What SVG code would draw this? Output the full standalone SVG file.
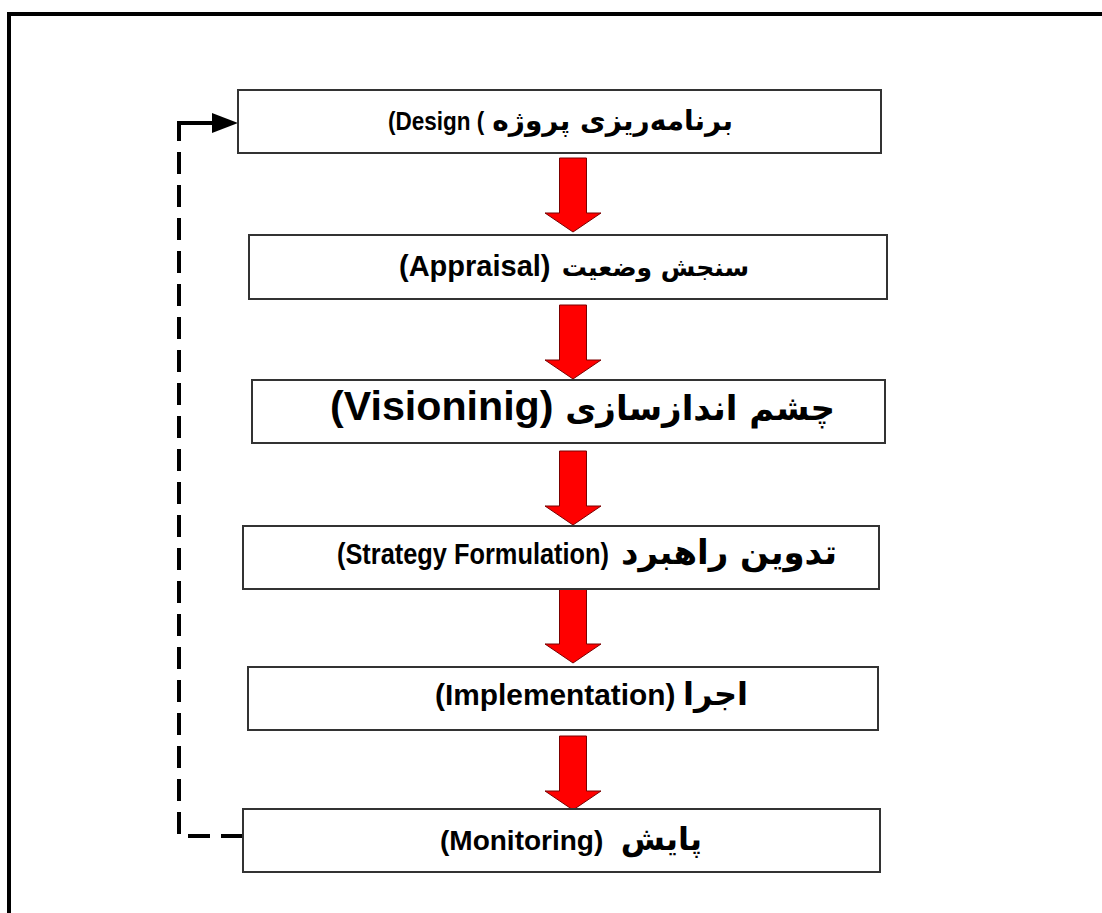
<svg xmlns="http://www.w3.org/2000/svg" width="1102" height="913" viewBox="0 0 1102 913">
<style>
.box{fill:#fff;stroke:#333;stroke-width:2}
.lbl{font-family:"Liberation Sans","DejaVu Sans",sans-serif;font-weight:bold;fill:#000}
.fa{font-family:"DejaVu Sans",sans-serif;font-weight:bold;fill:#000;text-anchor:end}
.red{fill:#ff0000;stroke:#7a0000;stroke-width:1}
.dash{fill:none;stroke:#000;stroke-width:4;stroke-dasharray:22 11}
</style>
<defs>
<path id="rarrow" d="M-13.5 0 H13.5 V55 H28 L0 74 L-28 55 H-13.5 Z"/>
</defs>
<rect x="9" y="14" width="1200" height="1000" fill="#fff" stroke="#000" stroke-width="4"/>
<g id="connectors">
<use href="#rarrow" class="red" x="573" y="158"/>
<use href="#rarrow" class="red" x="573" y="305"/>
<use href="#rarrow" class="red" x="573" y="451"/>
<use href="#rarrow" class="red" x="573" y="589"/>
<use href="#rarrow" class="red" x="573" y="736"/>
<path class="dash" d="M243 836 H179 V123"/>
<path d="M177 123 H214" stroke="#000" stroke-width="4" fill="none"/>
<path d="M212 113 L238 123 L212 133 Z" fill="#000"/>
</g>
<g id="n1"><rect class="box" x="238" y="90" width="643" height="63"/>
<text class="lbl" style="font-size:25px" transform="translate(388 130) scale(0.9 1)">(Design (</text>
<text class="fa" x="733" y="130" style="font-size:28px">برنامه‌ریزی پروژه</text></g>
<g id="n2"><rect class="box" x="249" y="235" width="638" height="64"/>
<text class="lbl" x="399" y="276" style="font-size:29px">(Appraisal)</text>
<text class="fa" x="749" y="276" style="font-size:25px">سنجش وضعیت</text></g>
<g id="n3"><rect class="box" x="252" y="380" width="633" height="63"/>
<text class="lbl" style="font-size:40px" transform="translate(330 420) scale(1.03 1)">(Visioninig)</text>
<text class="fa" x="835" y="420" style="font-size:34px">چشم اندازسازی</text></g>
<g id="n4"><rect class="box" x="243" y="526" width="636" height="63"/>
<text class="lbl" style="font-size:29px" transform="translate(337 564) scale(0.875 1)">(Strategy Formulation)</text>
<text class="fa" x="837" y="564" style="font-size:34px">تدوین راهبرد</text></g>
<g id="n5"><rect class="box" x="248" y="667" width="630" height="63"/>
<text class="lbl" style="font-size:29px" transform="translate(435 705) scale(1.03 1)">(Implementation)</text>
<text class="fa" x="748" y="705" style="font-size:32px">اجرا</text></g>
<g id="n6"><rect class="box" x="243" y="809" width="637" height="63"/>
<text class="lbl" x="440" y="850" style="font-size:28px">(Monitoring)</text>
<text class="fa" x="702" y="850" style="font-size:32px">پایش</text></g>
</svg>
